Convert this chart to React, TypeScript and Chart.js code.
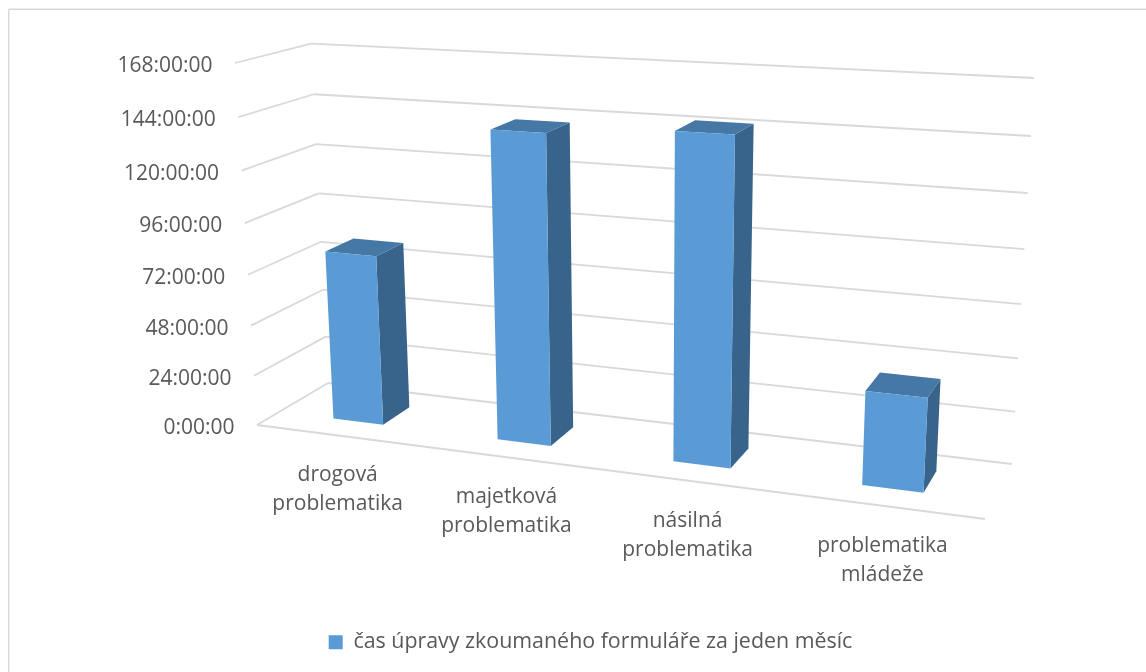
import React, { useEffect, useRef } from "react";
import { Chart, registerables } from "chart.js";

Chart.register(...registerables);

const categories = [
  ["drogová", "problematika"],
  ["majetková", "problematika"],
  ["násilná", "problematika"],
  ["problematika", "mládeže"],
];
const seriesLabel = "čas úpravy zkoumaného formuláře za jeden měsíc";
const hoursValues = [80.5, 141.7, 146, 41.7];
const axisMax = 168;
const axisStep = 24;

const FONT = "'Open Sans'";
const FONT_SIZE = 21;
const LEGEND_FONT_SIZE = 21.4;
const TEXT = "#595959";
const GRID = "#D9D9D9";
const FRONT = "#5B9BD5";
const SIDE = "#38638A";
const TOP = "#4678A6";
const DEPTH_START = 0.3;
const DEPTH_END = 0.7;

type Pt = [number, number];
// The 3D frame of the plot, as seen on the picture
const O: Pt = [257, 425]; // front-left floor
const X: Pt = [985, 519]; // front-right floor
const Y: Pt = [235, 63]; // front-left top
const Z: Pt = [328, 383]; // back-left floor
const B: Pt = [1012, 464]; // back-right floor
const T: Pt = [1034, 82]; // back-right top

function det(a: number[], b: number[], c: number[]) {
  return (
    a[0] * (b[1] * c[2] - b[2] * c[1]) -
    b[0] * (a[1] * c[2] - a[2] * c[1]) +
    c[0] * (a[1] * b[2] - a[2] * b[1])
  );
}
function cross(a: number[], b: number[]) {
  return [a[1] * b[2] - a[2] * b[1], a[2] * b[0] - a[0] * b[2], a[0] * b[1] - a[1] * b[0]];
}

function makeProjector() {
  const h = (p: Pt) => [p[0], p[1], 1];
  const o = h(O), x = h(X), y = h(Y), z = h(Z), b = h(B), t = h(T);
  // floor: alpha*X + gamma*Z - mu*B = O
  const mb = b.map((v) => -v);
  const d = det(x, z, mb);
  const alpha = det(o, z, mb) / d;
  const gamma = det(x, o, mb) / d;
  // vertical vanishing point, from the two upright edges of the box
  const vp0 = cross(cross(o, y), cross(b, t));
  const vp = vp0.map((c) => c / vp0[2]);
  const kappa = (Y[1] - o[1]) / (vp[1] - Y[1]);
  return (u: number, v: number, w: number): Pt => {
    const p = [0, 1, 2].map(
      (i) =>
        o[i] +
        u * (alpha * x[i] - o[i]) +
        v * kappa * vp[i] +
        w * (gamma * z[i] - o[i])
    );
    return [p[0] / p[2], p[1] / p[2]];
  };
}
const project = makeProjector();

function line(ctx: CanvasRenderingContext2D, a: Pt, b: Pt) {
  ctx.beginPath();
  ctx.moveTo(a[0], a[1]);
  ctx.lineTo(b[0], b[1]);
  ctx.stroke();
}
function face(ctx: CanvasRenderingContext2D, pts: Pt[], color: string) {
  ctx.beginPath();
  pts.forEach((p, i) => (i ? ctx.lineTo(p[0], p[1]) : ctx.moveTo(p[0], p[1])));
  ctx.closePath();
  ctx.fillStyle = color;
  ctx.fill();
}

const perspective3D = {
  id: "perspective3D",
  beforeDatasetsDraw(chart: any) {
    const ctx: CanvasRenderingContext2D = chart.ctx;
    const ys = chart.scales.y;
    const xs = chart.scales.x;
    const area = chart.chartArea;
    ctx.save();
    // chart frame
    ctx.strokeStyle = GRID;
    ctx.lineWidth = 1.4;
    line(ctx, [8.7, 672], [8.7, 9.3]);
    line(ctx, [8.7, 9.3], [1146, 9.3]);
    // walls and floor
    ctx.lineWidth = 1.8;
    ys.ticks.forEach((t: any) => {
      const v = (area.bottom - ys.getPixelForValue(t.value)) / area.height;
      line(ctx, project(0, v, 0), project(0, v, 1));
      line(ctx, project(0, v, 1), project(1, v, 1));
    });
    line(ctx, project(0, 0, 0), project(1, 0, 0));
    // value axis labels
    ctx.fillStyle = TEXT;
    ctx.font = `${FONT_SIZE}px ${FONT}`;
    ctx.textAlign = "right";
    ctx.textBaseline = "middle";
    ys.ticks.forEach((t: any) => {
      const v = (area.bottom - ys.getPixelForValue(t.value)) / area.height;
      const p = project(0, v, 0);
      ctx.fillText(t.label, p[0] - 22.5, p[1] + 3);
    });
    // category labels
    ctx.textAlign = "center";
    xs.getLabels().forEach((lab: string[], i: number) => {
      const u = (xs.getPixelForValue(i) - area.left) / area.width;
      const p = project(u, 0, 0);
      lab.forEach((s, k) => ctx.fillText(s, p[0] + 0.5, p[1] + 40 + k * 29));
    });
    ctx.restore();
  },
  beforeDatasetDraw(chart: any) {
    const ctx: CanvasRenderingContext2D = chart.ctx;
    const area = chart.chartArea;
    const meta = chart.getDatasetMeta(0);
    meta.data.forEach((bar: any) => {
      const { x, y, base, width } = bar.getProps(["x", "y", "base", "width"], true);
      const u0 = (x - width / 2 - area.left) / area.width;
      const u1 = (x + width / 2 - area.left) / area.width;
      const v0 = (area.bottom - base) / area.height;
      const v1 = (area.bottom - y) / area.height;
      const w0 = DEPTH_START;
      const w1 = DEPTH_END;
      face(ctx, [project(u1, v0, w0), project(u1, v0, w1), project(u1, v1, w1), project(u1, v1, w0)], SIDE);
      face(ctx, [project(u0, v1, w0), project(u1, v1, w0), project(u1, v1, w1), project(u0, v1, w1)], TOP);
      face(ctx, [project(u0, v0, w0), project(u1, v0, w0), project(u1, v1, w0), project(u0, v1, w0)], FRONT);
    });
    return false;
  },
};

export default function App() {
  const ref = useRef<HTMLCanvasElement>(null);
  useEffect(() => {
    const chart = new Chart(ref.current!, {
      type: "bar",
      data: {
        labels: categories as any,
        datasets: [
          {
            label: seriesLabel,
            data: hoursValues,
            backgroundColor: FRONT,
            borderWidth: 0,
            categoryPercentage: 1,
            barPercentage: 0.31,
          },
        ],
      },
      options: {
        responsive: false,
        animation: false,
        layout: { padding: { left: 35, bottom: 9, top: 0, right: 0 } },
        plugins: {
          tooltip: { enabled: false },
          legend: {
            position: "bottom",
            labels: {
              boxWidth: 14,
              boxHeight: 14,
              padding: 10,
              color: TEXT,
              font: { family: FONT, size: LEGEND_FONT_SIZE },
            },
          },
        },
        scales: {
          x: { display: false },
          y: {
            display: false,
            min: 0,
            max: axisMax,
            ticks: {
              stepSize: axisStep,
              callback: (v: any) => `${v}:00:00`,
            },
          },
        },
      },
      plugins: [perspective3D],
    } as any);
    return () => chart.destroy();
  }, []);
  return (
    <div style={{ position: "absolute", left: 0, top: 0, width: 1146, height: 672, background: "#fff" }}>
      <canvas ref={ref} width={1146} height={672} style={{ display: "block" }} />
    </div>
  );
}
